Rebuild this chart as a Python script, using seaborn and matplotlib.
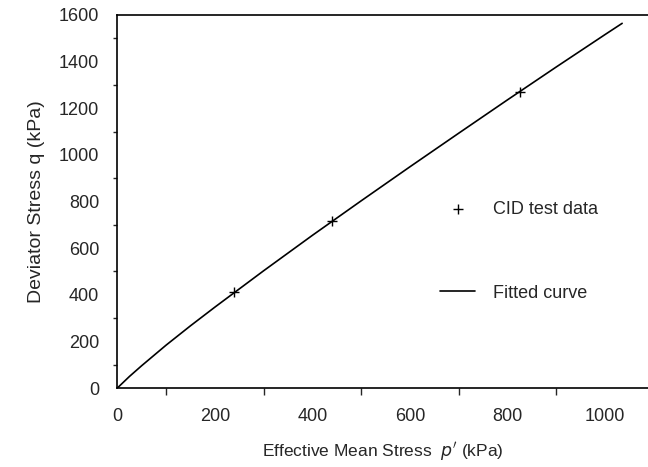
import numpy as np
import pandas as pd
import matplotlib.pyplot as plt
from matplotlib.ticker import MultipleLocator
import seaborn as sns

# CID test points
p_test = [240, 440, 825]
q_test = [410, 715, 1270]

# fitted curve
p_fit = [0, 25, 50, 100, 150, 200, 300, 400, 500, 600, 700, 800, 900, 1000, 1035]
q_fit = [0, 50, 96, 184, 267, 347, 503, 655, 803, 949, 1093, 1236, 1377, 1516, 1564]

sns.set_style("white")
plt.rcParams["font.family"] = ["Liberation Sans", "DejaVu Sans"]

test_df = pd.DataFrame({"p": p_test, "q": q_test})
fit_df = pd.DataFrame({"p": p_fit, "q": q_fit})

fig = plt.figure(figsize=(6.48, 4.67), dpi=100)
ax = fig.add_axes([0.181, 0.169, 0.819, 0.799])

sns.scatterplot(data=test_df, x="p", y="q", marker="+", s=55, color="black",
                linewidth=1.0, label="CID test data", ax=ax, zorder=3)
sns.lineplot(data=fit_df, x="p", y="q", color="black", linewidth=1.2,
             label="Fitted curve", ax=ax)

ax.set_xlim(0, 1088)
ax.set_ylim(0, 1600)
ax.xaxis.set_major_locator(MultipleLocator(200))
ax.xaxis.set_minor_locator(MultipleLocator(100))
ax.yaxis.set_major_locator(MultipleLocator(200))
ax.yaxis.set_minor_locator(MultipleLocator(100))
ax.tick_params(axis="both", which="major", direction="out", length=5, width=1,
               labelsize=13, color="black")
ax.tick_params(axis="y", which="major", pad=8)
ax.tick_params(axis="x", which="major", pad=9)
ax.tick_params(axis="x", which="minor", direction="out", length=5, width=1,
               bottom=True)
ax.tick_params(axis="y", which="minor", direction="out", length=3, width=1,
               left=True)

for side in ["left", "bottom", "top"]:
    ax.spines[side].set_color("black")
    ax.spines[side].set_linewidth(1.2)
ax.spines["right"].set_visible(False)

ax.set_xlabel("Effective Mean Stress  $\\mathit{p'}$ (kPa)", fontsize=12.5, labelpad=11)
ax.set_ylabel("Deviator Stress q (kPa)", fontsize=14, labelpad=10)

ax.legend(loc="center left", bbox_to_anchor=(0.578, 0.367), frameon=False,
          fontsize=13, labelspacing=3.7, handlelength=1.95, handletextpad=0.95)

fig.savefig("out.png", dpi=100)
plt.close(fig)
